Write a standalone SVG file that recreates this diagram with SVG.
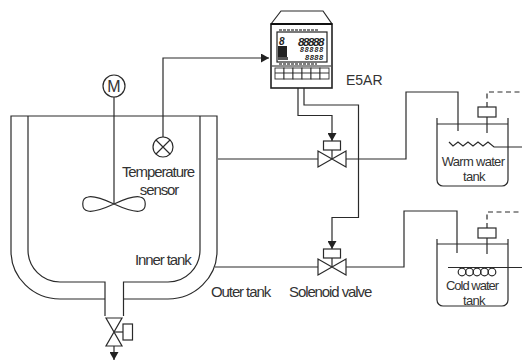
<svg xmlns="http://www.w3.org/2000/svg" width="522" height="360" viewBox="0 0 522 360">
<style>
.l{fill:none;stroke:#2a2a2a;stroke-width:1.2}
.f{fill:#fff;stroke:#2a2a2a;stroke-width:1.2}
.t{font-family:"Liberation Sans",Arial,sans-serif;font-size:15px;fill:#333;letter-spacing:-1.1px}
.w{font-size:13px;letter-spacing:-.7px}
.m{text-anchor:middle}
.d{stroke-dasharray:5 3.5}
.seg{font-family:"Liberation Sans",Arial,sans-serif;font-style:italic;font-weight:bold;fill:#222}
</style>
<defs>
<marker id="a" markerUnits="userSpaceOnUse" markerWidth="9" markerHeight="9" refX="8" refY="4.5" orient="auto"><path d="M0 0L8 4.5L0 9z" fill="#222"/></marker>
<g id="valve"><path class="f" d="M-14-8V8L14-8V8z"/><path class="l" d="M0 0V-9"/><rect class="f" x="-8.500" y="-18" width="17" height="9"/></g>
</defs>
<g id="connectors">
<path class="l" d="M163 137V58H269" marker-end="url(#a)"/>
<path class="l" d="M298 88V115.500H332V141" marker-end="url(#a)"/>
<path class="l" d="M304 88V105H358.500V217.500H332V249" marker-end="url(#a)"/>
<path class="l" d="M218 159H318M346 159H406V92H458V131"/>
<path class="l" d="M215 267H318M346 267H404V211H457V253"/>
<path class="l" d="M114 346V360" marker-end="url(#a)"/>
<path class="l d" d="M487 107V92H522"/>
<path class="l d" d="M487 228V212H522"/>
<path class="l" d="M114 97V204"/>
</g>
<g id="outer-tank"><path class="l" d="M105 299H60A49 48 0 0 1 11 251V116H217V251A49 48 0 0 1 168 299H123.500"/></g>
<g id="inner-tank"><path class="l" d="M28 116V250A32 32 0 0 0 60 282H105V316M123.500 316V282H168A32 32 0 0 0 200 250V116"/></g>
<g id="motor"><circle class="f" cx="114" cy="86" r="11"/><text class="t m" x="114" y="92" style="letter-spacing:0;font-size:16px">M</text></g>
<g id="impeller"><path class="l" d="M114 204C103 199 92 196 88 197C81 198 81 210 88 211C92 212 103 209 114 204C125 199 136 196 140 197C147 198 147 210 140 211C136 212 125 209 114 204Z"/></g>
<g id="sensor"><circle class="f" cx="163" cy="147" r="10"/><path class="l" d="M156 140L170 154M170 140L156 154"/></g>
<g id="temp-label"><text class="t m" x="158" y="177">Temperature</text><text class="t m" x="159" y="195">sensor</text></g>
<g id="inner-label"><text class="t" x="135" y="265">Inner tank</text></g>
<g id="outer-label"><text class="t" x="211" y="296.500">Outer tank</text></g>
<g id="valve-label"><text class="t" x="289" y="296.500">Solenoid valve</text></g>
<g id="e5ar-label"><text class="t" x="346" y="85" style="letter-spacing:0;font-size:14px">E5AR</text></g>
<g id="controller">
<path class="f" d="M271 24L281 11H323L332 24z"/>
<rect x="271" y="24" width="61" height="64" fill="#fff" stroke="#222" stroke-width="1.600"/>
<path d="M271 24H332" stroke="#111" stroke-width="2"/>
<path d="M279 30H318M279 64H317" stroke="#555" stroke-width="1.500" stroke-dasharray="3 1"/>
<rect x="277" y="32" width="50" height="30" fill="#fff" stroke="#222" stroke-width="1.200"/>
<rect x="278" y="46" width="9" height="11" fill="#222"/>
<rect x="278" y="57" width="10" height="3" fill="#555"/>
<text class="seg" x="279" y="45" style="font-size:10px">8</text>
<text class="seg" x="298" y="45.500" style="font-size:11.500px;letter-spacing:-1.400px">88888</text>
<text class="seg" x="300" y="52" style="font-size:7px;letter-spacing:.9px">88888</text>
<text class="seg" x="305" y="60" style="font-size:7.500px;letter-spacing:.5px">8888</text>
<path d="M272 66H331" stroke="#222" stroke-width="1"/>
<g class="f" style="stroke-width:.9"><rect x="275" y="68" width="9" height="11"/><rect x="284" y="68" width="9" height="11"/><rect x="293" y="68" width="9" height="11"/><rect x="302" y="68" width="9" height="11"/><rect x="311" y="68" width="9" height="11"/><rect x="320" y="68" width="9" height="11"/></g>
<path d="M275 73H329" stroke="#222" stroke-width=".9"/>
</g>
<use id="valve-warm" href="#valve" x="332" y="159"/>
<use id="valve-cold" href="#valve" x="332" y="267"/>
<g id="drain-valve"><path class="f" d="M106 318H122L106 346H122z"/><path class="l" d="M114 332H123"/><rect class="f" x="123" y="324" width="9.500" height="16"/></g>
<g id="warm-tank">
<path class="l" d="M437 118V180A6 6 0 0 0 443 186H502A6 6 0 0 0 508 180V118M437 124H508"/>
<rect class="f" x="478" y="107" width="18" height="10"/><path class="l" d="M487 117V133"/>
<path class="l" d="M449 142L453 146L458 142L463 146L468 142L473 146L478 142L483 146L488 142L494 147H522"/>
<text class="t w m" x="473" y="166">Warm water</text><text class="t w m" x="474" y="181">tank</text>
</g>
<g id="cold-tank">
<path class="l" d="M437 239V300A6 6 0 0 0 443 306H502A6 6 0 0 0 508 300V239M437 244H508"/>
<rect class="f" x="478" y="228" width="18" height="10"/><path class="l" d="M487 238V254"/>
<path class="l" d="M448 267.500H522"/>
<g class="l"><circle cx="462" cy="272" r="3.800"/><circle cx="469.500" cy="272" r="3.800"/><circle cx="477" cy="272" r="3.800"/><circle cx="484.500" cy="272" r="3.800"/><circle cx="492" cy="272" r="3.800"/></g>
<text class="t w m" x="472" y="289.500" style="letter-spacing:-1px">Cold water</text><text class="t w m" x="474" y="304.500">tank</text>
</g>
</svg>
